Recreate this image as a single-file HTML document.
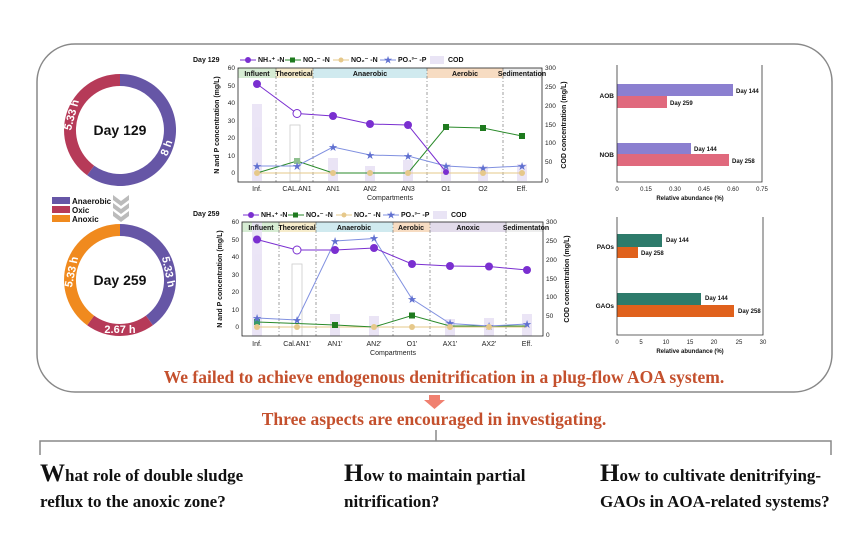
<!DOCTYPE html>
<html><head><meta charset="utf-8"><style>
body{margin:0;background:#fff;}
svg{display:block;font-family:"Liberation Sans",sans-serif;}
.t{font-weight:bold;fill:#111;}
.s{font-family:"Liberation Serif",serif;font-weight:bold;}
.w{fill:#fff;font-weight:bold;font-size:11px;dominant-baseline:central;}
</style></head><body>
<svg width="865" height="534" viewBox="0 0 865 534">
<rect x="37" y="44" width="795" height="348" rx="38" fill="none" stroke="#888" stroke-width="1.5"/>

<!-- donut 1 -->
<g transform="translate(120,130)">
<path d="M0,-56 A56,56 0 1,1 -32.9,45.3 L-25.9,35.6 A44,44 0 1,0 0,-44 Z" fill="#6656a6"/>
<path d="M-32.9,45.3 A56,56 0 0,1 0,-56 L0,-44 A44,44 0 0,0 -25.9,35.6 Z" fill="#b63a58"/>
<text x="0" y="5" text-anchor="middle" font-size="14" class="t">Day 129</text>
<text transform="translate(47,18) rotate(-70)" text-anchor="middle" class="w">8 h</text>
<text transform="translate(-48,-15) rotate(-75)" text-anchor="middle" class="w">5.33 h</text>
</g>
<rect x="52" y="197" width="18" height="7" fill="#6656a6"/><text x="72" y="204" font-size="8" class="t">Anaerobic</text>
<rect x="52" y="206" width="18" height="7" fill="#b63a58"/><text x="72" y="213" font-size="8" class="t">Oxic</text>
<rect x="52" y="215" width="18" height="7" fill="#f08a1e"/><text x="72" y="222" font-size="8" class="t">Anoxic</text>
<path d="M113,195 l8,6 l8,-6 v5 l-8,6 l-8,-6z M113,203 l8,6 l8,-6 v5 l-8,6 l-8,-6z M113,211 l8,6 l8,-6 v5 l-8,6 l-8,-6z" fill="#bbb"/>
<!-- donut 2 -->
<g transform="translate(120,280)">
<path d="M0,-56 A56,56 0 0,1 32.9,45.3 L25.9,35.6 A44,44 0 0,0 0,-44 Z" fill="#6656a6"/>
<path d="M32.9,45.3 A56,56 0 0,1 -32.9,45.3 L-25.9,35.6 A44,44 0 0,0 25.9,35.6 Z" fill="#b63a58"/>
<path d="M-32.9,45.3 A56,56 0 0,1 0,-56 L0,-44 A44,44 0 0,0 -25.9,35.6 Z" fill="#f08a1e"/>
<text x="0" y="5" text-anchor="middle" font-size="14" class="t">Day 259</text>
<text transform="translate(48,-8) rotate(78)" text-anchor="middle" class="w">5.33 h</text>
<text transform="translate(-48,-8) rotate(-78)" text-anchor="middle" class="w">5.33 h</text>
<text x="0" y="50" text-anchor="middle" class="w">2.67 h</text>
</g>

<!-- CHART 1 -->
<text x="193" y="62" font-size="7" class="t">Day 129</text>
<g font-size="7" class="t">
<line x1="240" y1="60" x2="256" y2="60" stroke="#7a2fd0"/><circle cx="248" cy="60" r="3" fill="#7a2fd0"/><text x="258" y="62">NH₄⁺ -N</text>
<line x1="285" y1="60" x2="301" y2="60" stroke="#2a8a2a"/><rect x="290" y="57.5" width="5" height="5" fill="#1e7a1e"/><text x="303" y="62">NO₃⁻ -N</text>
<line x1="333" y1="60" x2="349" y2="60" stroke="#e6c88a"/><circle cx="341" cy="60" r="2.5" fill="#e6c88a"/><text x="351" y="62">NO₂⁻ -N</text>
<line x1="380" y1="60" x2="396" y2="60" stroke="#8090e0"/><text x="384" y="63" fill="#6070d0" font-size="9">★</text><text x="398" y="62">PO₄³⁻ -P</text>
<rect x="430" y="56" width="14" height="8" fill="#e9e4f5"/><text x="448" y="62">COD</text>
</g>
<g>
<rect x="238" y="68" width="38" height="10" fill="#d6ecd3"/>
<rect x="276" y="68" width="37" height="10" fill="#f6eccb"/>
<rect x="313" y="68" width="114" height="10" fill="#d0eaef"/>
<rect x="427" y="68" width="76" height="10" fill="#f7dcc2"/>
<rect x="503" y="68" width="39" height="10" fill="#eeeeee"/>
<g stroke="#777" stroke-dasharray="3,2,1,2" stroke-width="0.7"><line x1="276" y1="68" x2="276" y2="182"/><line x1="313" y1="68" x2="313" y2="182"/><line x1="427" y1="68" x2="427" y2="182"/><line x1="503" y1="68" x2="503" y2="182"/></g>
<g fill="#e7e0f4" opacity="0.85">
<rect x="252" y="104" width="10" height="77"/>
<rect x="328" y="158" width="10" height="23"/>
<rect x="365" y="166" width="10" height="15"/>
<rect x="403" y="160" width="10" height="21"/>
<rect x="441" y="164" width="10" height="17"/>
<rect x="478" y="166" width="10" height="15"/>
<rect x="517" y="164" width="10" height="17"/>
</g>
<rect x="290" y="125" width="10" height="56" fill="none" stroke="#ccc" stroke-width="0.8"/>
<g font-size="7" class="t" text-anchor="middle"><text x="257" y="76">Influent</text><text x="294" y="76">Theoretical</text><text x="370" y="76">Anaerobic</text><text x="465" y="76">Aerobic</text><text x="522" y="76">Sedimentation</text></g>
<rect x="238" y="68" width="304" height="114" fill="none" stroke="#222" stroke-width="0.8"/>
<g font-size="6.5" fill="#222" text-anchor="end"><text x="235" y="70">60</text><text x="235" y="88">50</text><text x="235" y="105">40</text><text x="235" y="123">30</text><text x="235" y="140">20</text><text x="235" y="158">10</text><text x="235" y="175">0</text></g>
<g font-size="6.5" fill="#222"><text x="545" y="70">300</text><text x="545" y="89">250</text><text x="545" y="108">200</text><text x="545" y="127">150</text><text x="545" y="145">100</text><text x="545" y="164">50</text><text x="545" y="183">0</text></g>
<g font-size="7" fill="#222" text-anchor="middle"><text x="257" y="191">Inf.</text><text x="297" y="191">CAL.AN1</text><text x="333" y="191">AN1</text><text x="370" y="191">AN2</text><text x="408" y="191">AN3</text><text x="446" y="191">O1</text><text x="483" y="191">O2</text><text x="522" y="191">Eff.</text><text x="390" y="200">Compartments</text></g>
<text transform="translate(219,125) rotate(-90)" font-size="7" class="t" text-anchor="middle">N and P concentration (mg/L)</text>
<text transform="translate(566,125) rotate(-90)" font-size="7" class="t" text-anchor="middle">COD concentration (mg/L)</text>
<polyline points="257,173 297,173 333,173 370,173 408,173 446,173 483,173 522,173" fill="none" stroke="#e6c88a"/>
<polyline points="257,173 297,161 333,173 370,173 408,173 446,127 483,128 522,136" fill="none" stroke="#2a8a2a"/>
<polyline points="257,166 297,166 333,147 370,155 408,156 446,166 483,168 522,166" fill="none" stroke="#8090e0"/>
<polyline points="257,84 297,113.5 333,116 370,124 408,125 446,172" fill="none" stroke="#7a2fd0"/>
<g fill="#7a2fd0"><circle cx="257" cy="84" r="4"/><circle cx="333" cy="116" r="4"/><circle cx="370" cy="124" r="4"/><circle cx="408" cy="125" r="4"/><circle cx="446" cy="172" r="3"/></g>
<circle cx="297" cy="113.5" r="4" fill="#fff" stroke="#7a2fd0"/>
<g fill="#1e7a1e"><rect x="443" y="124" width="6" height="6"/><rect x="480" y="125" width="6" height="6"/><rect x="519" y="133" width="6" height="6"/><rect x="294" y="158" width="6" height="6" fill="#8fc08f"/></g>
<g fill="#6070d0" font-size="11" text-anchor="middle"><text x="257" y="170">★</text><text x="297" y="170">★</text><text x="333" y="151">★</text><text x="370" y="159">★</text><text x="408" y="160">★</text><text x="446" y="170">★</text><text x="483" y="172">★</text><text x="522" y="170">★</text></g>
<g fill="#e6c88a"><circle cx="257" cy="173" r="3"/><circle cx="333" cy="173" r="3"/><circle cx="370" cy="173" r="3"/><circle cx="408" cy="173" r="3"/><circle cx="483" cy="173" r="3"/><circle cx="522" cy="173" r="3"/></g>
</g>

<!-- CHART 2 -->
<text x="193" y="216" font-size="7" class="t">Day 259</text>
<g font-size="7" class="t">
<line x1="243" y1="215" x2="259" y2="215" stroke="#7a2fd0"/><circle cx="251" cy="215" r="3" fill="#7a2fd0"/><text x="261" y="217">NH₄⁺ -N</text>
<line x1="288" y1="215" x2="304" y2="215" stroke="#2a8a2a"/><rect x="293" y="212.5" width="5" height="5" fill="#1e7a1e"/><text x="306" y="217">NO₃⁻ -N</text>
<line x1="336" y1="215" x2="352" y2="215" stroke="#e6c88a"/><circle cx="344" cy="215" r="2.5" fill="#e6c88a"/><text x="354" y="217">NO₂⁻ -N</text>
<line x1="383" y1="215" x2="399" y2="215" stroke="#8090e0"/><text x="387" y="218" fill="#6070d0" font-size="9">★</text><text x="401" y="217">PO₄³⁻ -P</text>
<rect x="433" y="211" width="14" height="8" fill="#e9e4f5"/><text x="451" y="217">COD</text>
</g>
<g>
<rect x="242" y="222" width="37" height="10" fill="#d6ecd3"/>
<rect x="279" y="222" width="37" height="10" fill="#f6eccb"/>
<rect x="316" y="222" width="77" height="10" fill="#d0eaef"/>
<rect x="393" y="222" width="37" height="10" fill="#f7dcc2"/>
<rect x="430" y="222" width="76" height="10" fill="#e2dbea"/>
<rect x="506" y="222" width="37" height="10" fill="#eeeeee"/>
<g stroke="#777" stroke-dasharray="3,2,1,2" stroke-width="0.7"><line x1="279" y1="222" x2="279" y2="336"/><line x1="316" y1="222" x2="316" y2="336"/><line x1="393" y1="222" x2="393" y2="336"/><line x1="430" y1="222" x2="430" y2="336"/><line x1="506" y1="222" x2="506" y2="336"/></g>
<g fill="#e7e0f4" opacity="0.85">
<rect x="252" y="222" width="10" height="114"/>
<rect x="330" y="314" width="10" height="22"/>
<rect x="369" y="316" width="10" height="20"/>
<rect x="445" y="319" width="10" height="17"/>
<rect x="484" y="318" width="10" height="18"/>
<rect x="522" y="314" width="10" height="22"/>
</g>
<rect x="292" y="264" width="10" height="72" fill="none" stroke="#ccc" stroke-width="0.8"/>
<g font-size="7" class="t" text-anchor="middle"><text x="261" y="230">Influent</text><text x="297" y="230">Theoretical</text><text x="354" y="230">Anaerobic</text><text x="411" y="230">Aerobic</text><text x="468" y="230">Anoxic</text><text x="526" y="230">Sedimentaton</text></g>
<rect x="242" y="222" width="301" height="114" fill="none" stroke="#222" stroke-width="0.8"/>
<g font-size="6.5" fill="#222" text-anchor="end"><text x="239" y="224">60</text><text x="239" y="242">50</text><text x="239" y="259">40</text><text x="239" y="277">30</text><text x="239" y="294">20</text><text x="239" y="312">10</text><text x="239" y="329">0</text></g>
<g font-size="6.5" fill="#222"><text x="546" y="224">300</text><text x="546" y="243">250</text><text x="546" y="262">200</text><text x="546" y="281">150</text><text x="546" y="299">100</text><text x="546" y="318">50</text><text x="546" y="337">0</text></g>
<g font-size="7" fill="#222" text-anchor="middle"><text x="257" y="346">Inf.</text><text x="297" y="346">Cal.AN1'</text><text x="335" y="346">AN1'</text><text x="374" y="346">AN2'</text><text x="412" y="346">O1'</text><text x="450" y="346">AX1'</text><text x="489" y="346">AX2'</text><text x="527" y="346">Eff.</text><text x="393" y="355">Compartments</text></g>
<text transform="translate(222,279) rotate(-90)" font-size="7" class="t" text-anchor="middle">N and P concentration (mg/L)</text>
<text transform="translate(569,279) rotate(-90)" font-size="7" class="t" text-anchor="middle">COD concentration (mg/L)</text>
<polyline points="257,327 297,327 335,327 374,327 412,327 450,327 489,327 527,327" fill="none" stroke="#e6c88a"/>
<polyline points="257,322 297,323.5 335,325 374,327 412,315.5 450,326 489,326 527,326" fill="none" stroke="#2a8a2a"/>
<polyline points="257,318 297,320 335,241 374,238.5 412,299 450,323.5 489,326 527,324" fill="none" stroke="#8090e0"/>
<polyline points="257,239.5 297,250 335,250 374,248 412,264 450,266 489,266.5 527,270" fill="none" stroke="#7a2fd0"/>
<g fill="#7a2fd0"><circle cx="257" cy="239.5" r="4"/><circle cx="335" cy="250" r="4"/><circle cx="374" cy="248" r="4"/><circle cx="412" cy="264" r="4"/><circle cx="450" cy="266" r="4"/><circle cx="489" cy="266.5" r="4"/><circle cx="527" cy="270" r="4"/></g>
<circle cx="297" cy="250" r="4" fill="#fff" stroke="#7a2fd0"/>
<g fill="#1e7a1e"><rect x="254" y="319" width="6" height="6" fill="#3a9a6a"/><rect x="409" y="312.5" width="6" height="6"/><rect x="332" y="322" width="6" height="6"/></g>
<g fill="#6070d0" font-size="11" text-anchor="middle"><text x="257" y="322">★</text><text x="297" y="324">★</text><text x="335" y="245">★</text><text x="374" y="242">★</text><text x="412" y="303">★</text><text x="450" y="327">★</text><text x="489" y="330">★</text><text x="527" y="328">★</text></g>
<g fill="#e6c88a"><circle cx="257" cy="327" r="3"/><circle cx="297" cy="327" r="3"/><circle cx="374" cy="327" r="3"/><circle cx="412" cy="327" r="3"/><circle cx="450" cy="327" r="3"/><circle cx="489" cy="327" r="3"/></g>
</g>

<!-- bar chart 1 -->
<g>
<rect x="617" y="84" width="116" height="12" fill="#8b7fd0"/>
<rect x="617" y="96" width="50" height="12" fill="#e0697d"/>
<rect x="617" y="143" width="74" height="11" fill="#8b7fd0"/>
<rect x="617" y="154" width="112" height="12" fill="#e0697d"/>
<polyline points="617,65 617,182 762,182 762,65" fill="none" stroke="#333" stroke-width="0.8"/>
<g font-size="6" class="t"><text x="736" y="93">Day 144</text><text x="670" y="105">Day 259</text><text x="694" y="151">Day 144</text><text x="732" y="163">Day 258</text></g>
<g font-size="6.5" class="t" text-anchor="end"><text x="614" y="98">AOB</text><text x="614" y="157">NOB</text></g>
<g font-size="6" fill="#222" text-anchor="middle"><text x="617" y="191">0</text><text x="646" y="191">0.15</text><text x="675" y="191">0.30</text><text x="704" y="191">0.45</text><text x="733" y="191">0.60</text><text x="762" y="191">0.75</text></g>
<text x="690" y="200" font-size="6" class="t" text-anchor="middle">Relative abundance (%)</text>
</g>
<!-- bar chart 2 -->
<g>
<rect x="617" y="234" width="45" height="13" fill="#2d7b6b"/>
<rect x="617" y="247" width="21" height="11" fill="#e0611c"/>
<rect x="617" y="293" width="84" height="12" fill="#2d7b6b"/>
<rect x="617" y="305" width="117" height="12" fill="#e0611c"/>
<polyline points="617,217 617,335 763,335 763,217" fill="none" stroke="#333" stroke-width="0.8"/>
<g font-size="6" class="t"><text x="666" y="242">Day 144</text><text x="641" y="255">Day 258</text><text x="705" y="300">Day 144</text><text x="738" y="313">Day 258</text></g>
<g font-size="6.5" class="t" text-anchor="end"><text x="614" y="249">PAOs</text><text x="614" y="308">GAOs</text></g>
<g font-size="6" fill="#222" text-anchor="middle"><text x="617" y="344">0</text><text x="641" y="344">5</text><text x="666" y="344">10</text><text x="690" y="344">15</text><text x="714" y="344">20</text><text x="739" y="344">25</text><text x="763" y="344">30</text></g>
<text x="690" y="353" font-size="6" class="t" text-anchor="middle">Relative abundance (%)</text>
</g>

<text x="444" y="383" font-size="17.5" class="s" fill="#c4502d" text-anchor="middle">We failed to achieve endogenous denitrification in a plug-flow AOA system.</text>
<path d="M429,395 h11 v5 h5 l-10.5,9 l-10.5,-9 h5z" fill="#f08070"/>
<text x="434" y="425" font-size="17.5" class="s" fill="#c4502d" text-anchor="middle">Three aspects are encouraged in investigating.</text>
<g stroke="#888" stroke-width="1.5" fill="none">
<line x1="436" y1="430" x2="436" y2="441"/>
<polyline points="40,455 40,441 831,441 831,455"/>
</g>
<g class="s" fill="#111" font-size="17">
<text x="40" y="481"><tspan font-size="25">W</tspan>hat role of double sludge</text>
<text x="40" y="507">reflux to the anoxic zone?</text>
<text x="344" y="481"><tspan font-size="25">H</tspan>ow to maintain partial</text>
<text x="344" y="507">nitrification?</text>
<text x="600" y="481"><tspan font-size="25">H</tspan>ow to cultivate denitrifying-</text>
<text x="600" y="507">GAOs in AOA-related systems?</text>
</g>
</svg>
</body></html>
